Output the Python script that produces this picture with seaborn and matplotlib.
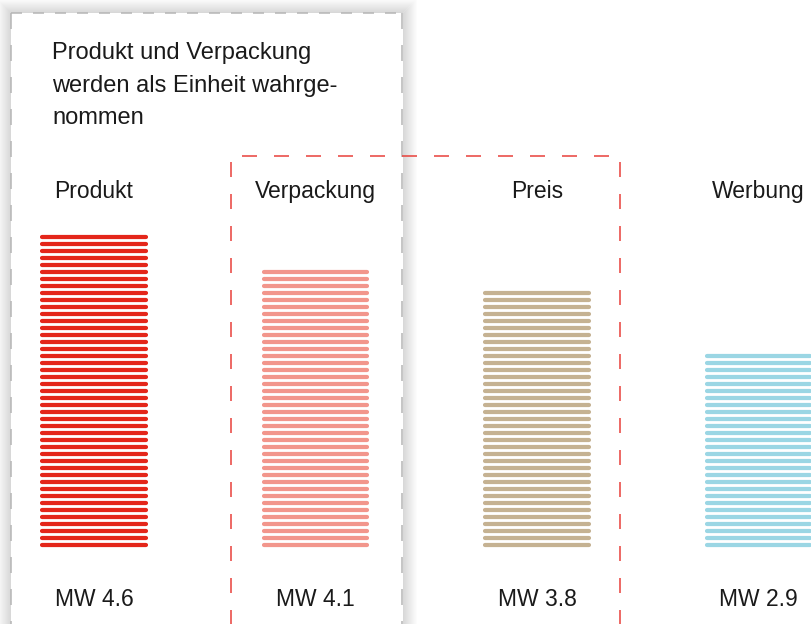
import numpy as np
import pandas as pd
import seaborn as sns
import matplotlib.pyplot as plt
import matplotlib.transforms as mtransforms
from matplotlib.patches import Rectangle

categories = ['Produkt', 'Verpackung', 'Preis', 'Werbung']
values = [4.6, 4.1, 3.8, 2.9]
mw_labels = ['MW 4.6', 'MW 4.1', 'MW 3.8', 'MW 2.9']
colors = ['#e4261a', '#f2968c', '#c5b292', '#9bd6e4']
note = 'Produkt und Verpackung\nwerden als Einheit wahrge-\nnommen'

W, H = 811, 624
sns.set_theme(style='white')
plt.rcParams['font.family'] = ['Liberation Sans', 'DejaVu Sans']

fig = plt.figure(figsize=(W / 100, H / 100), dpi=100)
ax = fig.add_axes([0, 0, 1, 1])

df = pd.DataFrame({'cat': categories, 'val': values})
sns.barplot(data=df, x='cat', y='val', hue='cat', palette=colors,
            width=0.488, legend=False, ax=ax)

# layout in pixels: bar centres at 94 + 221.5*i, zero line at y=547, 68 px per unit
xs, ys = 221.5, 68.0
ax.set_xlim(-94 / xs, (W - 94) / xs)
ax.set_ylim(-(H - 547) / ys, 547 / ys)
ax.axis('off')

# pixel coords with origin top-left
pix = mtransforms.Affine2D().scale(1 / W, -1 / H).translate(0, 1) + fig.transFigure
colpix = mtransforms.blended_transform_factory(ax.transData, pix)


def dash(on, off, lw):
    # dash lengths given in pixels
    f = lw * 100 / 72
    return (0, (on / f, off / f))


# striped bars
step = 7.0 / ys
lw_px = 4.2
for patch, c in zip(ax.patches, colors):
    x0, w, h = patch.get_x(), patch.get_width(), patch.get_height()
    patch.set_visible(False)
    inset = lw_px / 2 / xs
    yy = np.arange(lw_px / 2 / ys, h - lw_px / 2 / ys + 1e-9, step)
    ax.hlines(yy, x0 + inset, x0 + w - inset, color=c, lw=lw_px * 0.72,
              capstyle='round')

# soft shadow + grey dashed box
for k in range(1, 15):
    ax.add_patch(Rectangle((10.5 - k, 12.5 - k), 391 + 2 * k, 700, transform=pix,
                           fill=False, ec='black', lw=0.72,
                           alpha=0.011 * (15 - k), clip_on=False, zorder=0))
ax.add_patch(Rectangle((10.5, 12.5), 391, 700, transform=pix, fc='white',
                       ec='none', clip_on=False, zorder=0.5))
gl = 1.1
ax.plot([10.5, 401.5], [12.5, 12.5], transform=pix, color='#b5b5b5', lw=gl,
        ls=dash(11, 11, gl), clip_on=False, zorder=0.6)
for xv in (10.5, 401.5):
    ax.plot([xv, xv], [12.5, H + 5], transform=pix, color='#b5b5b5', lw=gl,
            ls=dash(16, 16, gl), clip_on=False, zorder=0.6)

# red dashed box
rl = 1.1
ax.plot([231, 231, 620, 620], [H + 5, 155.5, 155.5, H + 5], transform=pix,
        color='#e8403a', lw=rl, ls=dash(15, 17, rl), clip_on=False, zorder=1)

ax.text(52, 124.5, note, transform=pix, ha='left', va='baseline', fontsize=17,
        color='#1a1a1a', linespacing=1.62)

for i, (cat, lab) in enumerate(zip(categories, mw_labels)):
    ax.text(i, 198, cat, transform=colpix, ha='center', va='baseline',
            fontsize=16.5, color='#1a1a1a')
    ax.text(i, 606, lab, transform=colpix, ha='center', va='baseline',
            fontsize=16.5, color='#1a1a1a')

fig.savefig('out.png', dpi=100)
